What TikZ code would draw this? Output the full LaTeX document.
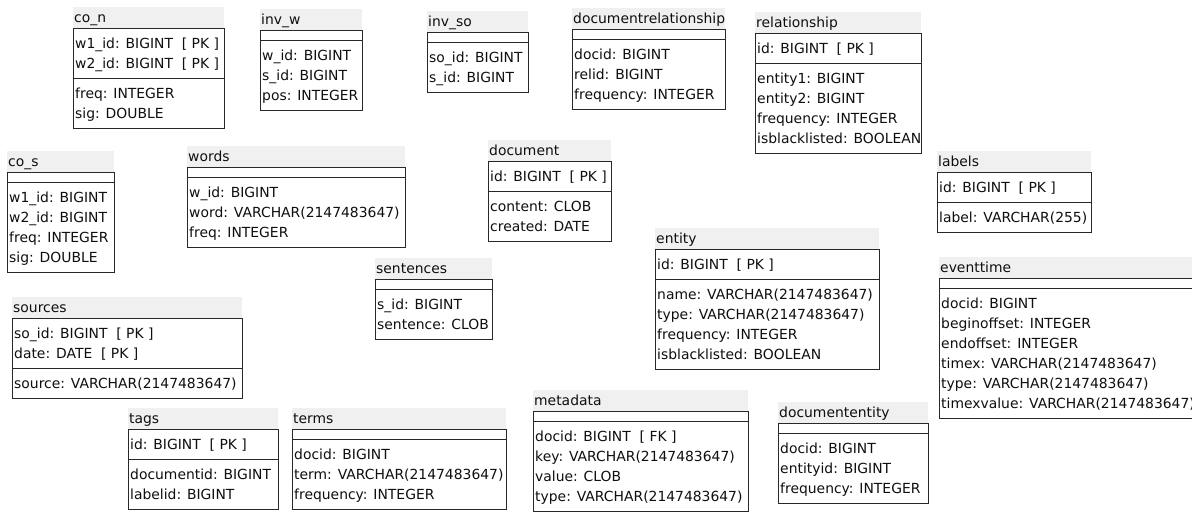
\documentclass[tikz,border=0pt]{standalone}
\usepackage{fontspec}
\setmainfont{DejaVu Sans}
\definecolor{titlefill}{RGB}{240,240,240}
\definecolor{framecol}{RGB}{40,40,40}
\definecolor{inkcol}{RGB}{15,15,15}
\tikzset{
  titlebar/.style={fill=titlefill, draw=none, inner sep=0pt, anchor=north west, minimum height=21pt},
  tabletitle/.style={anchor=base west, inner sep=0pt, text=inkcol, font=\fontsize{13.9}{16}\selectfont},
  field/.style={anchor=base west, inner sep=0pt, text=inkcol, font=\fontsize{13.9}{16}\selectfont},
  frame/.style={draw=framecol, line width=1pt}
}
% \ertable{id}{title}{x left}{x right}{top of title bar}{#key rows}{key rows}{#other rows}{other rows}
\newcommand\ertable[9]{%
  \pgfmathsetmacro\erW{#4-#3}%
  \pgfmathsetmacro\erTop{#5+21}%
  \pgfmathsetmacro\erMid{\erTop+(#6==0?10:20*#6+10)}%
  \pgfmathsetmacro\erBot{\erMid+(#8==0?10:20*#8+10)}%
  \node[titlebar, minimum width=\erW pt] (#1) at (#3,#5) {};
  \node[tabletitle] (#1-title) at (#3+1,#5+15.5) {#2};
  \draw[frame] (#3,\erTop) rectangle (#4,\erBot);
  \draw[frame] (#3,\erMid) -- (#4,\erMid);
  \ifnum#6>0
    \foreach \r [count=\i] in {#7} {\node[field] (#1-k\i) at (#3+2,\erTop+20*\i) {\r};}%
  \fi
  \ifnum#8>0
    \foreach \r [count=\i] in {#9} {\node[field] (#1-f\i) at (#3+2,\erMid+20*\i) {\r};}%
  \fi
}
\begin{document}
\begin{tikzpicture}[x=1pt,y=-1pt]
\useasboundingbox (0,0) rectangle (1192,512);
\clip (0,0) rectangle (1192,512);
\fill[white] (0,0) rectangle (1192,512);

\ertable{con}{co\_n}{73}{224}{7}{2}{{w1\_id: BIGINT\ \ [ PK ]},{w2\_id: BIGINT\ \ [ PK ]}}{2}{{freq: INTEGER},{sig: DOUBLE}}
\ertable{invw}{inv\_w}{260}{362}{9}{0}{}{3}{{w\_id: BIGINT},{s\_id: BIGINT},{pos: INTEGER}}
\ertable{invso}{inv\_so}{427}{528}{11}{0}{}{2}{{so\_id: BIGINT},{s\_id: BIGINT}}
\ertable{docrel}{documentrelationship}{572}{725}{8}{0}{}{3}{{docid: BIGINT},{relid: BIGINT},{frequency: INTEGER}}
\ertable{rel}{relationship}{755}{921}{12}{1}{{id: BIGINT\ \ [ PK ]}}{4}{{entity1: BIGINT},{entity2: BIGINT},{frequency: INTEGER},{isblacklisted: BOOLEAN}}
\ertable{labels}{labels}{937}{1091}{151}{1}{{id: BIGINT\ \ [ PK ]}}{1}{{label: VARCHAR(255)}}
\ertable{cos}{co\_s}{7}{114}{151}{0}{}{4}{{w1\_id: BIGINT},{w2\_id: BIGINT},{freq: INTEGER},{sig: DOUBLE}}
\ertable{words}{words}{187}{405}{146}{0}{}{3}{{w\_id: BIGINT},{word: VARCHAR(2147483647)},{freq: INTEGER}}
\ertable{doc}{document}{488}{611}{140}{1}{{id: BIGINT\ \ [ PK ]}}{2}{{content: CLOB},{created: DATE}}
\ertable{sent}{sentences}{375}{492}{258}{0}{}{2}{{s\_id: BIGINT},{sentence: CLOB}}
\ertable{entity}{entity}{655}{879}{228}{1}{{id: BIGINT\ \ [ PK ]}}{4}{{name: VARCHAR(2147483647)},{type: VARCHAR(2147483647)},{frequency: INTEGER},{isblacklisted: BOOLEAN}}
\ertable{evt}{eventtime}{939}{1200}{257}{0}{}{6}{{docid: BIGINT},{beginoffset: INTEGER},{endoffset: INTEGER},{timex: VARCHAR(2147483647)},{type: VARCHAR(2147483647)},{timexvalue: VARCHAR(2147483647)}}
\ertable{src}{sources}{12}{242}{297}{2}{{so\_id: BIGINT\ \ [ PK ]},{date: DATE\ \ [ PK ]}}{1}{{source: VARCHAR(2147483647)}}
\ertable{tags}{tags}{128}{278}{408}{1}{{id: BIGINT\ \ [ PK ]}}{2}{{documentid: BIGINT},{labelid: BIGINT}}
\ertable{terms}{terms}{292}{506}{408}{0}{}{3}{{docid: BIGINT},{term: VARCHAR(2147483647)},{frequency: INTEGER}}
\ertable{meta}{metadata}{533}{748}{390}{0}{}{4}{{docid: BIGINT\ \ [ FK ]},{key: VARCHAR(2147483647)},{value: CLOB},{type: VARCHAR(2147483647)}}
\ertable{docent}{documententity}{778}{928}{402}{0}{}{3}{{docid: BIGINT},{entityid: BIGINT},{frequency: INTEGER}}
\end{tikzpicture}
\end{document}
